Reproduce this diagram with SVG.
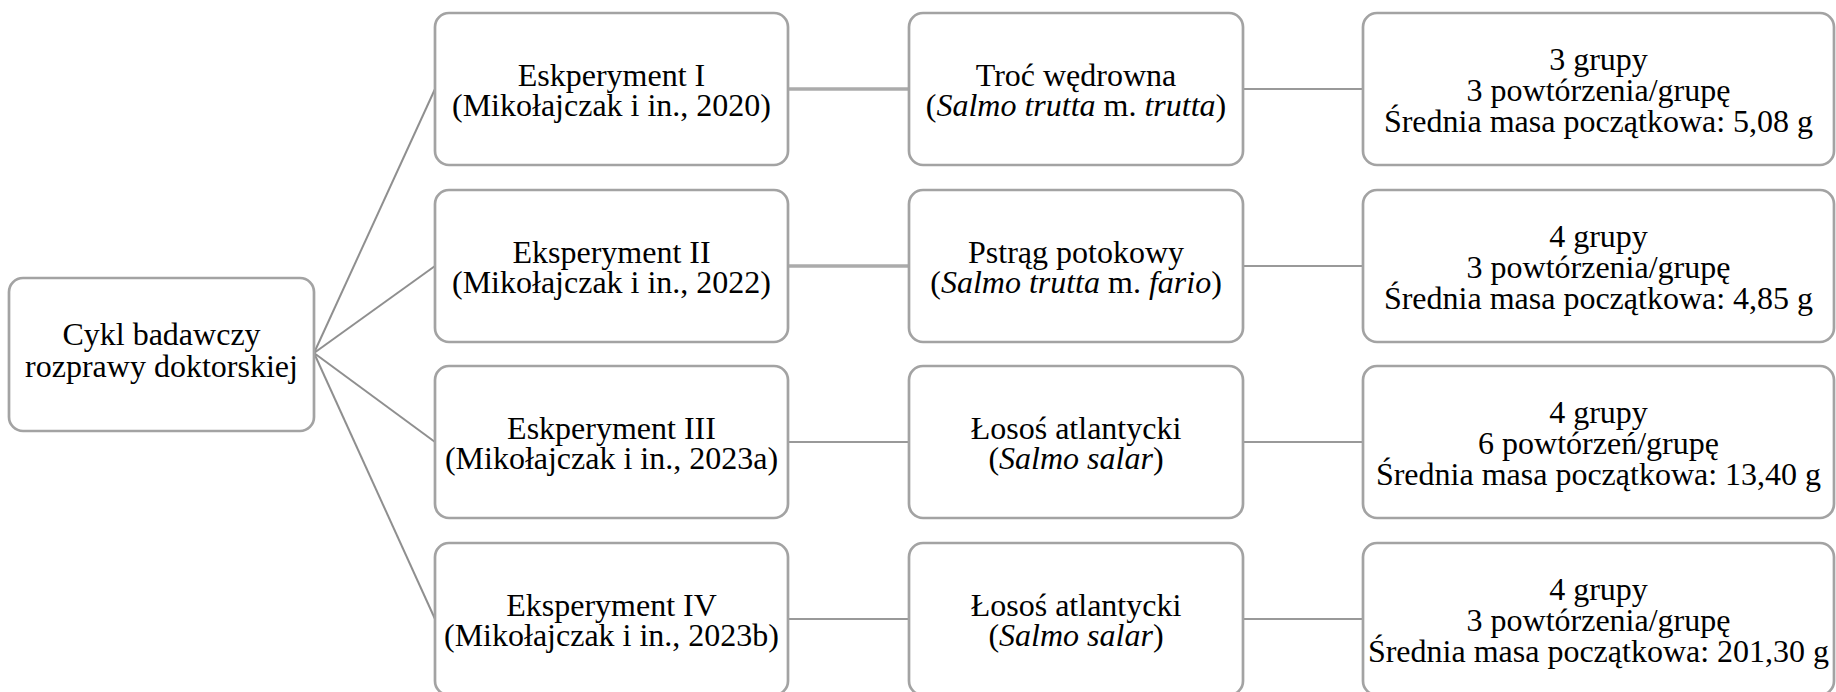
<svg xmlns="http://www.w3.org/2000/svg" width="1836" height="692" viewBox="0 0 1836 692">
<style>
.box{fill:#fff;stroke:#a3a3a3;stroke-width:2.7}
.t{font-family:"Liberation Serif","Times New Roman",serif;font-size:32px;fill:#000;text-anchor:middle}
.fan{stroke:#8f8f8f;stroke-width:2;fill:none}
.thick{stroke:#ababab;stroke-width:3.5;fill:none}
.thin{stroke:#999;stroke-width:2;fill:none}
</style>
<rect width="1836" height="692" fill="#fff"/>
<g id="connectors">
<line class="fan" x1="314" y1="353" x2="435" y2="89"/>
<line class="fan" x1="314" y1="353" x2="435" y2="266"/>
<line class="fan" x1="314" y1="353" x2="435" y2="442"/>
<line class="fan" x1="314" y1="353" x2="435" y2="619"/>
<line class="thick" x1="788" y1="89" x2="909" y2="89"/>
<line class="thick" x1="788" y1="266" x2="909" y2="266"/>
<line class="thin" x1="788" y1="442" x2="909" y2="442"/>
<line class="thin" x1="788" y1="619" x2="909" y2="619"/>
<line class="thin" x1="1243" y1="89" x2="1363" y2="89"/>
<line class="thin" x1="1243" y1="266" x2="1363" y2="266"/>
<line class="thin" x1="1243" y1="442" x2="1363" y2="442"/>
<line class="thin" x1="1243" y1="619" x2="1363" y2="619"/>
</g>
<g id="root">
<rect class="box" x="9" y="278" width="305" height="153" rx="14"/>
<text class="t" x="161.5" y="345">Cykl badawczy</text>
<text class="t" x="161.5" y="377">rozprawy doktorskiej</text>
</g>
<g id="exp1">
<rect class="box" x="435" y="13" width="353" height="152" rx="14"/>
<text class="t" x="611.5" y="86">Eskperyment I</text>
<text class="t" x="611.5" y="116">(Mikołajczak i in., 2020)</text>
</g>
<g id="exp2">
<rect class="box" x="435" y="190" width="353" height="152" rx="14"/>
<text class="t" x="611.5" y="263">Eksperyment II</text>
<text class="t" x="611.5" y="293">(Mikołajczak i in., 2022)</text>
</g>
<g id="exp3">
<rect class="box" x="435" y="366" width="353" height="152" rx="14"/>
<text class="t" x="611.5" y="439">Eskperyment III</text>
<text class="t" x="611.5" y="469">(Mikołajczak i in., 2023a)</text>
</g>
<g id="exp4">
<rect class="box" x="435" y="543" width="353" height="152" rx="14"/>
<text class="t" x="611.5" y="616">Eksperyment IV</text>
<text class="t" x="611.5" y="646">(Mikołajczak i in., 2023b)</text>
</g>
<g id="fish1">
<rect class="box" x="909" y="13" width="334" height="152" rx="14"/>
<text class="t" x="1076" y="86">Troć wędrowna</text>
<text class="t" x="1076" y="116">(<tspan font-style="italic">Salmo trutta</tspan> m. <tspan font-style="italic">trutta</tspan>)</text>
</g>
<g id="fish2">
<rect class="box" x="909" y="190" width="334" height="152" rx="14"/>
<text class="t" x="1076" y="263">Pstrąg potokowy</text>
<text class="t" x="1076" y="293">(<tspan font-style="italic">Salmo trutta</tspan> m. <tspan font-style="italic">fario</tspan>)</text>
</g>
<g id="fish3">
<rect class="box" x="909" y="366" width="334" height="152" rx="14"/>
<text class="t" x="1076" y="439">Łosoś atlantycki</text>
<text class="t" x="1076" y="469">(<tspan font-style="italic">Salmo salar</tspan>)</text>
</g>
<g id="fish4">
<rect class="box" x="909" y="543" width="334" height="152" rx="14"/>
<text class="t" x="1076" y="616">Łosoś atlantycki</text>
<text class="t" x="1076" y="646">(<tspan font-style="italic">Salmo salar</tspan>)</text>
</g>
<g id="groups1">
<rect class="box" x="1363" y="13" width="471" height="152" rx="14"/>
<text class="t" x="1598.5" y="70">3 grupy</text>
<text class="t" x="1598.5" y="101">3 powtórzenia/grupę</text>
<text class="t" x="1598.5" y="132">Średnia masa początkowa: 5,08 g</text>
</g>
<g id="groups2">
<rect class="box" x="1363" y="190" width="471" height="152" rx="14"/>
<text class="t" x="1598.5" y="247">4 grupy</text>
<text class="t" x="1598.5" y="278">3 powtórzenia/grupę</text>
<text class="t" x="1598.5" y="309">Średnia masa początkowa: 4,85 g</text>
</g>
<g id="groups3">
<rect class="box" x="1363" y="366" width="471" height="152" rx="14"/>
<text class="t" x="1598.5" y="423">4 grupy</text>
<text class="t" x="1598.5" y="454">6 powtórzeń/grupę</text>
<text class="t" x="1598.5" y="485">Średnia masa początkowa: 13,40 g</text>
</g>
<g id="groups4">
<rect class="box" x="1363" y="543" width="471" height="152" rx="14"/>
<text class="t" x="1598.5" y="600">4 grupy</text>
<text class="t" x="1598.5" y="631">3 powtórzenia/grupę</text>
<text class="t" x="1598.5" y="662">Średnia masa początkowa: 201,30 g</text>
</g>
</svg>
